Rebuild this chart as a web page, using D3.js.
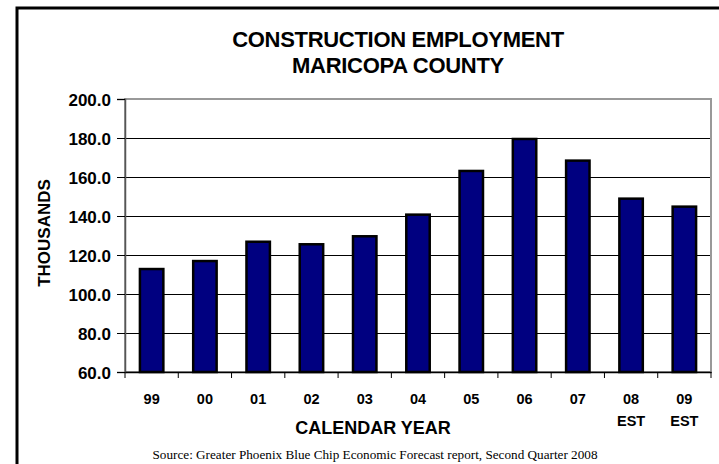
<!DOCTYPE html>
<html><head><meta charset="utf-8">
<script src="https://cdn.jsdelivr.net/npm/d3@7"></script>
<style>body{margin:0;background:#fff}svg{display:block}</style>
</head><body>
<script>
const categories = ["99","00","01","02","03","04","05","06","07","08","09"];
const subLabels = ["","","","","","","","","","EST","EST"];
const values = [112.8, 116.9, 126.8, 125.5, 129.6, 140.7, 163.1, 179.5, 168.4, 148.9, 144.8];
const yTicks = [60, 80, 100, 120, 140, 160, 180, 200];
const titleLines = ["CONSTRUCTION EMPLOYMENT", "MARICOPA COUNTY"];
const yTitle = "THOUSANDS";
const xTitle = "CALENDAR YEAR";
const source = "Source: Greater Phoenix Blue Chip Economic Forecast report, Second Quarter 2008";

const W = 719, H = 464;
const m = {left:125, right:711, top:99, bottom:372};
const svg = d3.select("body").append("svg").attr("width", W).attr("height", H);
const bold = "'Liberation Sans', Arial, sans-serif";

// outer frame
svg.append("rect").attr("x",17).attr("y",8).attr("width",730).attr("height",480)
  .attr("fill","none").attr("stroke","#000").attr("stroke-width",3);

const x = d3.scaleBand().domain(categories).range([m.left, m.right]).paddingInner(0.56).paddingOuter(0.28);
const xb = d3.scaleBand().domain(categories).range([m.left, m.right]);
const y = d3.scaleLinear().domain([60, 200]).range([m.bottom, m.top]);

// gridlines
svg.append("g").selectAll("line").data(yTicks.slice(1, -1)).join("line")
  .attr("x1", m.left).attr("x2", m.right)
  .attr("y1", d => Math.round(y(d)) + 0.5).attr("y2", d => Math.round(y(d)) + 0.5)
  .attr("stroke", "#000").attr("stroke-width", 1);

// plot border
svg.append("rect").attr("x", m.left).attr("y", m.top).attr("width", m.right - m.left).attr("height", m.bottom - m.top)
  .attr("fill", "none").attr("stroke", "#999").attr("stroke-width", 2);

// bars
svg.append("g").selectAll("rect").data(values).join("rect")
  .attr("x", (d, i) => x(categories[i]))
  .attr("width", x.bandwidth())
  .attr("y", d => y(d))
  .attr("height", d => y(60) - y(d))
  .attr("fill", "#000080").attr("stroke", "#000").attr("stroke-width", 2.5);

// y axis
const yAxis = svg.append("g").attr("transform", `translate(${m.left},0)`)
  .call(d3.axisLeft(y).tickValues(yTicks).tickFormat(d3.format(".1f")).tickSize(8).tickPadding(6));
yAxis.select(".domain").attr("stroke", "#555").attr("stroke-width", 1.5);
yAxis.selectAll(".tick line").attr("stroke", "#000");
yAxis.selectAll("text").attr("font-family", bold).attr("font-weight", "bold")
  .attr("font-size", "17px").attr("fill", "#000").attr("dy", "0.36em");

// x axis
const xAxis = svg.append("g").attr("transform", `translate(0,${m.bottom})`)
  .call(d3.axisBottom(xb).tickSize(0).tickFormat(""));
xAxis.select(".domain").attr("stroke", "#000").attr("stroke-width", 1.5);
svg.append("g").selectAll("line").data(categories.concat(["end"])).join("line")
  .attr("x1", (d, i) => i < categories.length ? xb(d) : m.right)
  .attr("x2", (d, i) => i < categories.length ? xb(d) : m.right)
  .attr("y1", m.bottom).attr("y2", m.bottom + 6).attr("stroke", "#000");

svg.append("g").selectAll("text").data(categories).join("text")
  .attr("x", d => xb(d) + xb.bandwidth() / 2).attr("y", 404)
  .attr("text-anchor", "middle").attr("font-family", bold).attr("font-weight", "bold")
  .attr("font-size", "14.5px").text(d => d);
svg.append("g").selectAll("text").data(categories.filter((d, i) => subLabels[i])).join("text")
  .attr("x", d => xb(d) + xb.bandwidth() / 2).attr("y", 426)
  .attr("text-anchor", "middle").attr("font-family", bold).attr("font-weight", "bold")
  .attr("font-size", "14.5px").text(d => subLabels[categories.indexOf(d)]);

// titles
svg.append("g").selectAll("text").data(titleLines).join("text")
  .attr("x", 398).attr("y", (d, i) => 47 + i * 26)
  .attr("text-anchor", "middle").attr("font-family", bold).attr("font-weight", "bold")
  .attr("font-size", "22px").attr("letter-spacing", "-0.3px").text(d => d);

svg.append("text").attr("x", 373).attr("y", 434).attr("text-anchor", "middle")
  .attr("font-family", bold).attr("font-weight", "bold").attr("font-size", "18px").text(xTitle);

svg.append("text").attr("transform", "translate(50,233) rotate(-90)").attr("text-anchor", "middle")
  .attr("font-family", bold).attr("font-weight", "bold").attr("font-size", "17px").text(yTitle);

svg.append("text").attr("x", 375).attr("y", 459).attr("text-anchor", "middle")
  .attr("font-family", "'Liberation Serif', 'Times New Roman', serif").attr("font-size", "13.2px").text(source);
</script>
</body></html>
